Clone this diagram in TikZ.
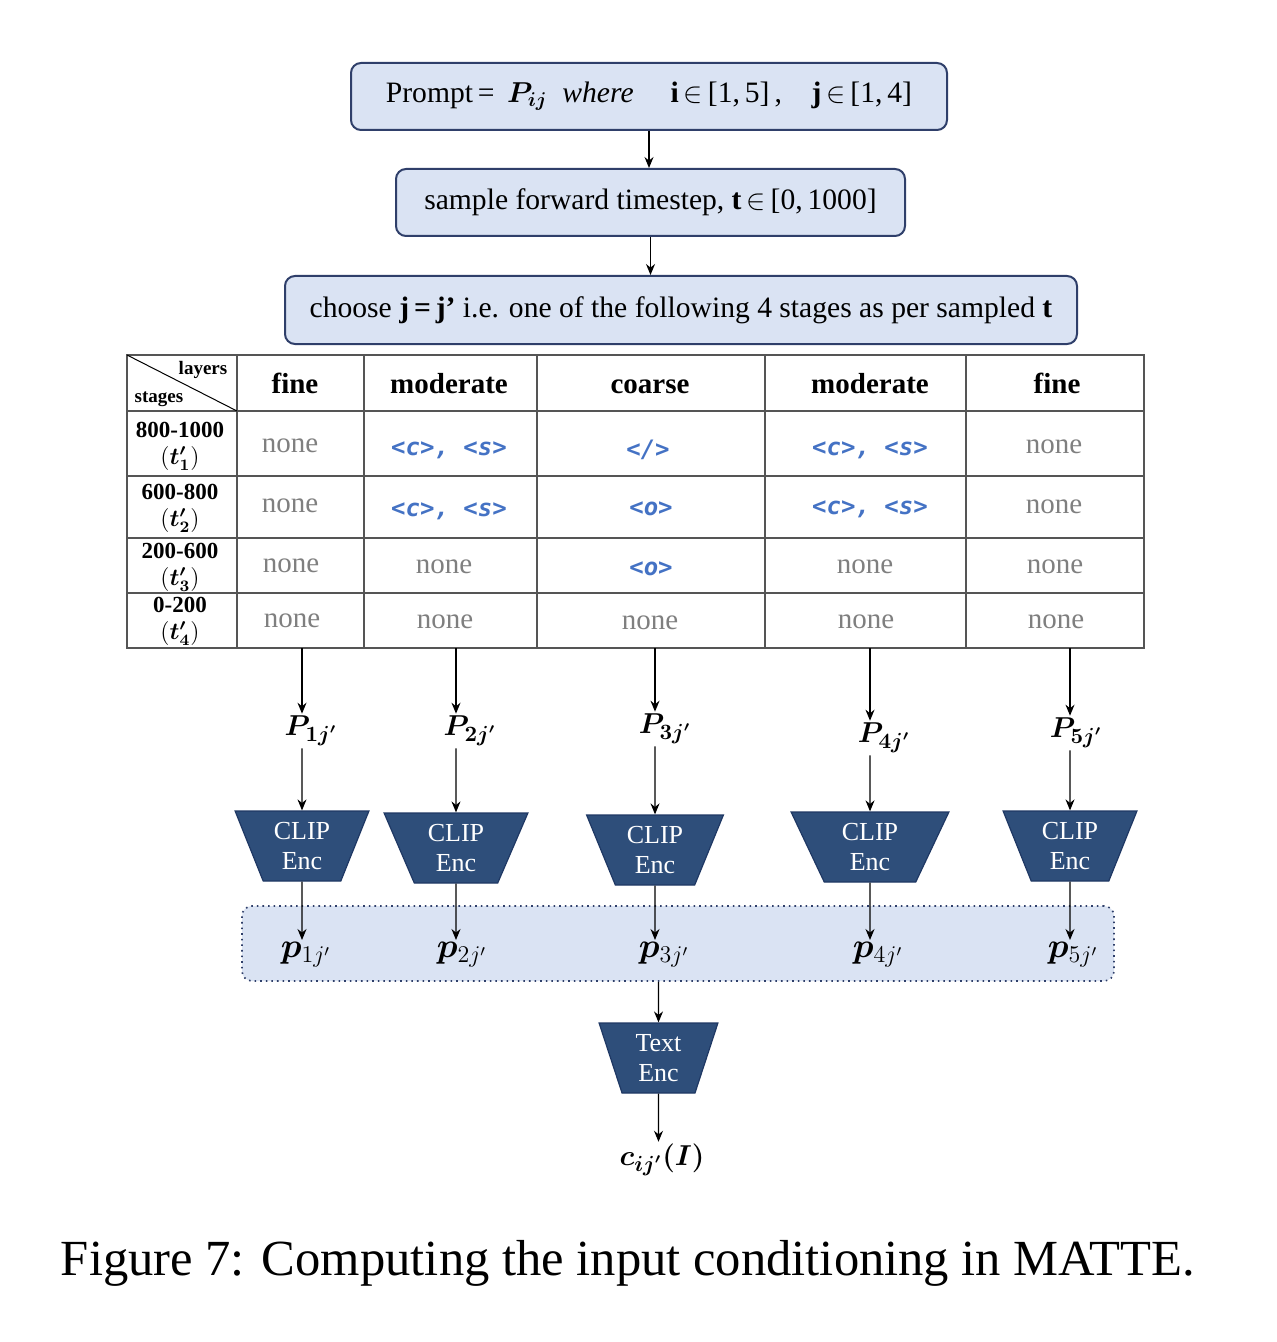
\documentclass[tikz,border=0pt]{standalone}
\usepackage{amsmath,amssymb,bm}
\usepackage{fontspec}
\setmainfont{Liberation Serif}
\newfontfamily\tokfont{DejaVu Sans Mono}
\usetikzlibrary{arrows.meta,positioning,shapes.geometric,calc}

\definecolor{boxfill}{HTML}{DAE3F3}
\definecolor{boxline}{HTML}{2F3F6A}
\definecolor{encfill}{HTML}{2E4E7A}
\definecolor{encline}{HTML}{1F3864}
\definecolor{tokblue}{HTML}{4472C4}
\definecolor{nonegray}{HTML}{7F7F7F}
\definecolor{tabline}{HTML}{555555}

\begin{document}
\begin{tikzpicture}[x=0.5pt, y=-0.5pt,
  pbox/.style={draw=boxline, fill=boxfill, line width=1pt, rounded corners=5pt,
               minimum height=33.5pt, inner sep=0pt, font=\fontsize{14.8}{17}\selectfont},
  hd/.style={text height=1.6ex, text depth=0.3ex, font=\bfseries\fontsize{14.5}{16}\selectfont},
  stg/.style={align=center, inner sep=0pt, font=\bfseries\fontsize{11.5}{13.5}\selectfont},
  nonec/.style={text=nonegray, font=\fontsize{14.5}{16}\selectfont},
  tokc/.style={text=tokblue, font=\tokfont\bfseries\itshape\fontsize{12}{13}\selectfont},
  enc/.style={trapezium, trapezium stretches=true, trapezium angle=67, shape border rotate=180,
              fill=encfill, draw=encline, line width=0.6pt, text=white, align=center,
              minimum height=35pt, inner sep=1pt, font=\fontsize{13}{15}\selectfont},
  plbl/.style={inner sep=1pt, font=\fontsize{15}{17}\selectfont},
  arr/.style={-{Stealth[length=5.5pt, width=4.5pt]}, line width=0.6pt}
]
\useasboundingbox (0,0) rectangle (1276,1342);

% prompt and sampling boxes
\node[pbox, minimum width=298pt] (B1) at (649,96.5)
  {Prompt\,=\, $\bm{P_{ij}}$\ \ \textit{where}\quad\ \textbf{i}\,$\in$\,[1,\,5]\,,\quad\textbf{j}\,$\in$\,[1,\,4]};
\node[pbox, minimum width=254.5pt] (B2) at (650.5,202.5)
  {sample forward timestep, \textbf{t}\,$\in$\,[0,\,1000]};
\node[pbox, minimum width=396pt, minimum height=34pt] (B3) at (681,310)
  {choose \textbf{j\,=\,j’} i.e. one of the following 4 stages as per sampled \textbf{t}};
\draw[arr] (B1.south) -- (B1.south |- B2.north);
\draw[arr] (B2.south) -- (B2.south |- B3.north);

% table
\draw[tabline, line width=0.6pt] (127,355) rectangle (1144,648);
\foreach \x in {237,364,537,765,966}
  \draw[tabline, line width=0.6pt] (\x,355) -- (\x,648);
\foreach \y in {411,476,538,593}
  \draw[tabline, line width=0.6pt] (127,\y) -- (1144,\y);
\draw[black, line width=0.5pt] (127,355) -- (237,411);
\node[font=\bfseries\fontsize{9.5}{11}\selectfont] (lay) at (203,370) {layers};
\node[font=\bfseries\fontsize{9.5}{11}\selectfont] (stg) at (159,399) {stages};
\coordinate (tbot) at (0,648);

\foreach \i/\x/\t in {1/295/fine, 2/449/moderate, 3/650/coarse, 4/870/moderate, 5/1057/fine}
  \node[hd] (h\i) at (\x,388) {\t};
\foreach \i/\y/\r in {1/446/800-1000, 2/508/600-800, 3/567/200-600, 4/621/0-200}
  \node[stg] (s\i) at (180,\y) {\r\\$(\bm{t'_{\i}})$};

% row 1
\node[nonec] (c11) at (290,446) {none};
\node[tokc] (c12) at (449,450) {<c>, <s>};
\node[tokc] (c13) at (648,450) {</>};
\node[tokc] (c14) at (870,450) {<c>, <s>};
\node[nonec] (c15) at (1054,447) {none};
% row 2
\node[nonec] (c21) at (290,506) {none};
\node[tokc] (c22) at (449,511) {<c>, <s>};
\node[tokc] (c23) at (651,509) {<o>};
\node[tokc] (c24) at (870,509) {<c>, <s>};
\node[nonec] (c25) at (1054,507) {none};
% row 3
\node[nonec] (c31) at (291,566) {none};
\node[nonec] (c32) at (444,567) {none};
\node[tokc] (c33) at (651,569) {<o>};
\node[nonec] (c34) at (865,567) {none};
\node[nonec] (c35) at (1055,567) {none};
% row 4
\node[nonec] (c41) at (292,621) {none};
\node[nonec] (c42) at (445,622) {none};
\node[nonec] (c43) at (650,623) {none};
\node[nonec] (c44) at (866,622) {none};
\node[nonec] (c45) at (1056,622) {none};

% prompts per layer and CLIP encoders
\foreach \i/\x/\y in {1/311/731, 2/470/731, 3/665/729, 4/884/738, 5/1076/733}
  \node[plbl] (P\i) at (\x,\y) {$\bm{P_{\i j'}}$};
\node[enc, minimum width=67pt] (C1) at (302,846) {CLIP\\Enc};
\node[enc, minimum width=72pt] (C2) at (456,848) {CLIP\\Enc};
\node[enc, minimum width=68.5pt] (C3) at (655,850) {CLIP\\Enc};
\node[enc, minimum width=79pt] (C4) at (870,847) {CLIP\\Enc};
\node[enc, minimum width=67pt] (C5) at (1070,846) {CLIP\\Enc};

% pooled embeddings
\node[draw=boxline, dotted, line width=0.8pt, fill=boxfill, rounded corners=5pt,
      minimum width=436pt, minimum height=37.5pt] (pv) at (678,943.5) {};
\foreach \i/\x in {1/306, 2/462, 3/664, 4/878, 5/1073}
  \node[plbl, font=\fontsize{16.5}{18}\selectfont] (p\i) at (\x,955) {$\bm{p}_{\i j'}$};

\foreach \i in {1,...,5} {
  \draw[arr] (C\i |- tbot) -- (C\i |- P\i.north);
  \draw[arr] (C\i |- P\i.south) -- (C\i);
  \draw[arr] (C\i) -- (C\i |- p\i.north);
}

% text encoder
\node[enc, minimum width=59.5pt, trapezium angle=73] (T) at (658.5,1058) {Text\\Enc};
\node[plbl] (cI) at (662,1160) {$\bm{c_{ij'}(I)}$};
\draw[arr] (T |- pv.south) -- (T);
\draw[arr] (T) -- (T |- cI.north);

\node[font=\fontsize{25.3}{29}\selectfont] (cap) at (628,1263)
  {Figure 7: Computing the input conditioning in MATTE.};
\end{tikzpicture}
\end{document}
